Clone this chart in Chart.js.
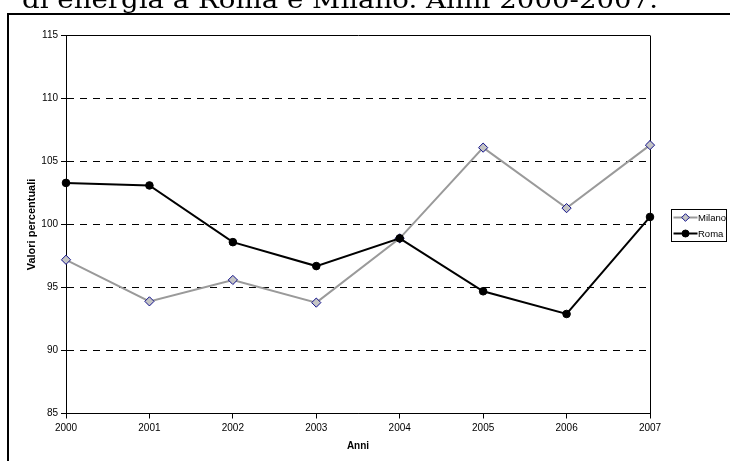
<!DOCTYPE html>
<html lang="it">
<head>
<meta charset="utf-8">
<title>Roma e Milano 2000-2007</title>
<script src="https://cdn.jsdelivr.net/npm/chart.js@4/dist/chart.umd.min.js"></script>
<style>
  html, body { margin: 0; padding: 0; background: #fff; }
  #wrap { position: relative; width: 730px; height: 461px; overflow: hidden; }
  canvas { display: block; }
</style>
</head>
<body>
<div id="wrap"><canvas id="chart" width="730" height="461"></canvas></div>
<script>
// Anni sull'asse orizzontale
const years = ['2000', '2001', '2002', '2003', '2004', '2005', '2006', '2007'];
// Valori percentuali per città
const milano = [97.2, 93.9, 95.6, 93.8, 98.9, 106.1, 101.3, 106.3];
const roma = [103.3, 103.1, 98.6, 96.7, 98.9, 94.7, 92.9, 100.6];
// Scala dell'asse verticale
const yMin = 85;
const yMax = 115;
const yStep = 5;

const headingText = 'di energia a Roma e Milano. Anni 2000-2007.';
const sansFont = '"Liberation Sans", Arial, sans-serif';

// Intestazione (riga finale del titolo) e cornice attorno al grafico
const framePlugin = {
  id: 'frame',
  beforeDraw(chart) {
    const ctx = chart.ctx;
    ctx.save();
    ctx.fillStyle = '#fff';
    ctx.fillRect(0, 0, chart.width, chart.height);
    ctx.fillStyle = '#000';
    ctx.font = '24px "DejaVu Serif", serif';
    ctx.textBaseline = 'alphabetic';
    ctx.textAlign = 'left';
    const w = ctx.measureText(headingText).width;
    const sx = 636 / w;
    ctx.translate(22, 8);
    ctx.scale(sx, 1);
    ctx.fillText(headingText, 0, 0);
    ctx.setTransform(1, 0, 0, 1, 0, 0);
    ctx.fillRect(7, 13, chart.width - 7, 2);
    ctx.fillRect(7, 13, 2, chart.height - 13);
    ctx.restore();
  }
};

// Legenda riquadrata con linea e marcatore di ogni serie
const boxLegendPlugin = {
  id: 'boxLegend',
  afterDraw(chart) {
    const ctx = chart.ctx;
    const area = chart.chartArea;
    const sets = chart.data.datasets;
    const rowH = 16;
    const boxW = 55;
    const boxH = sets.length * rowH;
    const x0 = area.right + 21.5;
    const y0 = Math.round((area.top + area.bottom) / 2 - boxH / 2) + 0.5;
    ctx.save();
    ctx.strokeStyle = '#000';
    ctx.lineWidth = 1;
    ctx.strokeRect(x0, y0, boxW, boxH);
    ctx.font = '9.5px ' + sansFont;
    ctx.textBaseline = 'middle';
    ctx.textAlign = 'left';
    sets.forEach((ds, i) => {
      const cy = y0 + rowH * i + rowH / 2;
      const cx = x0 + 14;
      ctx.strokeStyle = ds.borderColor;
      ctx.lineWidth = ds.borderWidth;
      ctx.beginPath();
      ctx.moveTo(x0 + 2, cy);
      ctx.lineTo(x0 + 26, cy);
      ctx.stroke();
      ctx.fillStyle = ds.pointBackgroundColor;
      ctx.strokeStyle = ds.pointBorderColor;
      ctx.lineWidth = ds.pointBorderWidth;
      ctx.beginPath();
      const r = ds.pointStyle === 'circle' ? 3.5 : 3.8;
      if (ds.pointStyle === 'circle') {
        ctx.arc(cx, cy, r, 0, Math.PI * 2);
      } else {
        ctx.moveTo(cx, cy - r);
        ctx.lineTo(cx + r, cy);
        ctx.lineTo(cx, cy + r);
        ctx.lineTo(cx - r, cy);
        ctx.closePath();
      }
      ctx.fill();
      ctx.stroke();
      ctx.fillStyle = '#000';
      ctx.fillText(ds.label, x0 + 26.5, cy + 0.5);
    });
    ctx.restore();
  }
};

const dashFor = (c) => {
  if (!c.tick) return [];
  return (c.tick.value === yMax || c.tick.value === yMin) ? [] : [7, 6];
};

new Chart(document.getElementById('chart'), {
  type: 'line',
  data: {
    labels: years,
    datasets: [
      {
        label: 'Milano',
        data: milano,
        borderColor: '#9a9a9a',
        borderWidth: 2,
        pointStyle: 'rectRot',
        pointRadius: 4.6,
        pointBackgroundColor: '#c4c4c4',
        pointBorderColor: '#10108a',
        pointBorderWidth: 1,
        tension: 0,
        fill: false,
        clip: false,
        order: 1
      },
      {
        label: 'Roma',
        data: roma,
        borderColor: '#000000',
        borderWidth: 2,
        pointStyle: 'circle',
        pointRadius: 3.8,
        pointBackgroundColor: '#000000',
        pointBorderColor: '#000000',
        pointBorderWidth: 1,
        tension: 0,
        fill: false,
        clip: false,
        order: 0
      }
    ]
  },
  options: {
    responsive: false,
    animation: false,
    devicePixelRatio: 1,
    layout: { padding: { top: 35.5, right: 80, bottom: 9, left: 25 } },
    plugins: {
      legend: { display: false },
      tooltip: { enabled: false },
      title: { display: false }
    },
    scales: {
      x: {
        type: 'category',
        offset: false,
        afterFit(scale) { scale.height = 38.5; },
        grid: {
          display: true,
          drawOnChartArea: true,
          drawTicks: true,
          tickLength: 5,
          lineWidth: 1,
          color: (c) => (c.index === years.length - 1 ? '#000' : 'rgba(0,0,0,0)'),
          tickColor: '#000'
        },
        border: { display: true, color: '#000', width: 1 },
        ticks: {
          color: '#000',
          font: { family: sansFont, size: 10 },
          padding: 4,
          maxRotation: 0,
          autoSkip: false
        },
        title: {
          display: true,
          text: 'Anni',
          color: '#000',
          font: { family: sansFont, size: 10, weight: 'bold' },
          padding: 0
        }
      },
      y: {
        min: yMin,
        max: yMax,
        afterFit(scale) { scale.width = 41; },
        grid: {
          display: true,
          drawOnChartArea: true,
          drawTicks: true,
          tickLength: 5,
          lineWidth: 1,
          color: '#000',
          tickColor: '#000'
        },
        border: { display: true, color: '#000', width: 1, dash: dashFor },
        ticks: {
          stepSize: yStep,
          color: '#000',
          font: { family: sansFont, size: 10 },
          padding: 3
        },
        title: {
          display: true,
          text: 'Valori percentuali',
          color: '#000',
          font: { family: sansFont, size: 11, weight: 'bold' },
          padding: 0
        }
      }
    }
  },
  plugins: [framePlugin, boxLegendPlugin]
});
</script>
</body>
</html>
